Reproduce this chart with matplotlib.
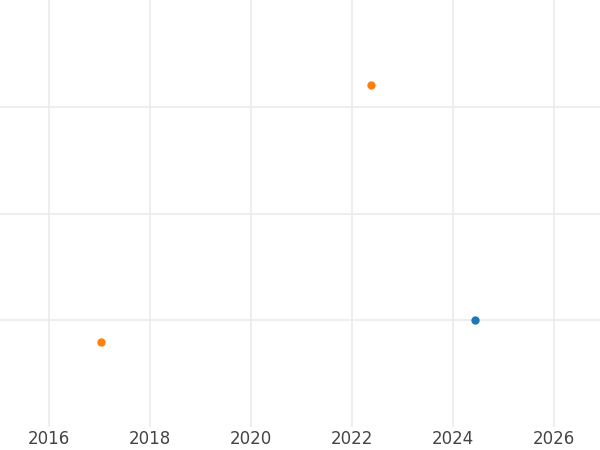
import matplotlib
matplotlib.use("Agg")
import matplotlib.pyplot as plt

orange_x = [2017.03, 2022.38]
orange_y = [0.8, 3.2]
blue_x = [2024.44]
blue_y = [1.0]
xticks = [2016, 2018, 2020, 2022, 2024, 2026]

fig = plt.figure(figsize=(6, 4.5), dpi=100)
ax = fig.add_axes([0, 0.051, 1, 0.949])
ax.scatter(orange_x, orange_y, color='#ff7f0e', s=36, zorder=3, linewidths=0)
ax.scatter(blue_x, blue_y, color='#1f77b4', s=36, zorder=3, linewidths=0)
ax.set_xlim(2015.03, 2026.91)
ax.set_ylim(0, 4)
ax.set_xticks(xticks)
ax.set_yticks([1, 2, 3])
ax.set_yticklabels([])
ax.grid(True, color='#ebebeb', linewidth=1.2)
ax.set_axisbelow(True)
for s in ax.spines.values():
    s.set_visible(False)
ax.tick_params(length=0, labelsize=12, labelcolor='#444444', pad=2)
fig.savefig('out.png', dpi=100)
